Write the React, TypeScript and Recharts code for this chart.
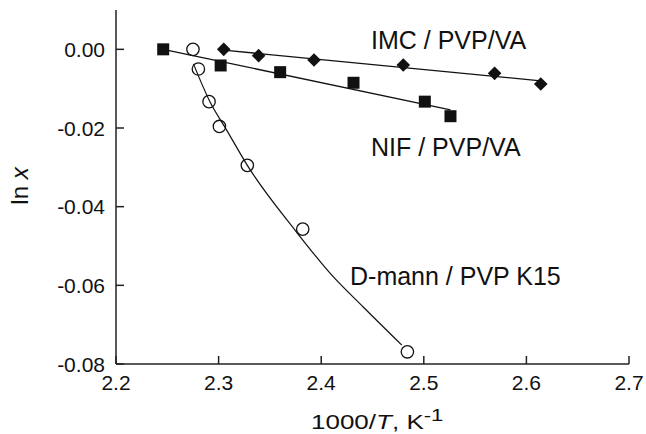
import React from 'react';
import { ComposedChart, XAxis, YAxis, Line, Scatter } from 'recharts';

// Axis ticks
const xTicks = [2.2, 2.3, 2.4, 2.5, 2.6, 2.7];
const yTicks = [0, -0.02, -0.04, -0.06, -0.08];

// IMC / PVP/VA (diamonds)
const imcX = [2.305, 2.339, 2.393, 2.48, 2.569, 2.614];
const imcY = [0.0, -0.0016, -0.0027, -0.004, -0.0061, -0.0088];
const imcFitX = [2.305, 2.614];
const imcFitY = [-0.0002, -0.008];

// NIF / PVP/VA (squares)
const nifX = [2.246, 2.302, 2.36, 2.4315, 2.501, 2.526];
const nifY = [0.0, -0.0041, -0.0058, -0.0085, -0.0133, -0.017];
const nifFitX = [2.246, 2.526];
const nifFitY = [0.0, -0.0154];

// D-mann / PVP K15 (open circles)
const dmX = [2.275, 2.2803, 2.2907, 2.3008, 2.328, 2.382, 2.484];
const dmY = [0.0, -0.005, -0.0133, -0.0196, -0.0295, -0.0457, -0.0769];
const dmCurveX = [2.2755, 2.2917, 2.308, 2.328, 2.3746, 2.409, 2.441, 2.4786];
const dmCurveY = [-0.0037, -0.0134, -0.0206, -0.0295, -0.046, -0.057, -0.0655, -0.0752];

const zip = (xs: number[], ys: number[]) => xs.map((x, i) => ({ x, y: ys[i] }));

const imcData = zip(imcX, imcY);
const imcFit = zip(imcFitX, imcFitY);
const nifData = zip(nifX, nifY);
const nifFit = zip(nifFitX, nifFitY);
const dmData = zip(dmX, dmY);
const dmCurve = zip(dmCurveX, dmCurveY);

const FONT = '"Liberation Sans", Arial, Helvetica, sans-serif';
const INK = '#111';
const AXIS = '#222';

const Square = (p: any) => (
  <rect x={p.cx - 6} y={p.cy - 6} width={12} height={12} fill={INK} />
);
const Diamond = (p: any) => (
  <path
    d={`M${p.cx},${p.cy - 6.8}L${p.cx + 6.8},${p.cy}L${p.cx},${p.cy + 6.8}L${p.cx - 6.8},${p.cy}Z`}
    fill={INK}
  />
);
const Ring = (p: any) => (
  <circle cx={p.cx} cy={p.cy} r={6.2} fill="none" stroke={INK} strokeWidth={1.3} />
);

const XTick = (props: any) => {
  const { x, y, payload } = props;
  return (
    <g>
      <line x1={x} x2={x} y1={y} y2={y - 8} stroke={AXIS} strokeWidth={1.5} />
      <text x={x} y={y + 26} textAnchor="middle" fontSize={21} fill={INK} fontFamily={FONT}>
        {Number(payload.value).toFixed(1)}
      </text>
    </g>
  );
};

const YTick = (props: any) => {
  const { x, y, payload } = props;
  const v = Number(payload.value);
  const label = Math.abs(v) < 1e-9 ? '0.00' : v.toFixed(2);
  return (
    <g>
      <line x1={x} x2={x + 8} y1={y} y2={y} stroke={AXIS} strokeWidth={1.5} />
      <text x={x - 11} y={y + 7.5} textAnchor="end" fontSize={21} fill={INK} fontFamily={FONT}>
        {label}
      </text>
    </g>
  );
};

export default function App() {
  return (
    <div style={{ position: 'absolute', left: 0, top: 0, width: 646, height: 434, background: '#fff' }}>
      <ComposedChart
        width={646}
        height={434}
        margin={{ top: 10, right: 17, bottom: 0, left: 0 }}
      >
        <XAxis
          dataKey="x"
          type="number"
          domain={[2.2, 2.7]}
          ticks={xTicks}
          interval={0}
          allowDataOverflow
          height={70}
          tickSize={0}
          tickMargin={0}
          tickLine={false}
          axisLine={{ stroke: AXIS, strokeWidth: 1.5 }}
          tick={<XTick />}
        />
        <YAxis
          dataKey="y"
          type="number"
          domain={[-0.08, 0.01]}
          ticks={yTicks}
          interval={0}
          allowDataOverflow
          width={116}
          tickSize={0}
          tickMargin={0}
          tickLine={false}
          axisLine={{ stroke: AXIS, strokeWidth: 1.5 }}
          tick={<YTick />}
        />
        <Line data={imcFit} dataKey="y" type="linear" stroke={INK} strokeWidth={1.3} dot={false} activeDot={false} isAnimationActive={false} />
        <Line data={nifFit} dataKey="y" type="linear" stroke={INK} strokeWidth={1.3} dot={false} activeDot={false} isAnimationActive={false} />
        <Line data={dmCurve} dataKey="y" type="monotone" stroke={INK} strokeWidth={1.2} dot={false} activeDot={false} isAnimationActive={false} />
        <Scatter data={imcData} dataKey="y" shape={Diamond} isAnimationActive={false} />
        <Scatter data={nifData} dataKey="y" shape={Square} isAnimationActive={false} />
        <Scatter data={dmData} dataKey="y" shape={Ring} isAnimationActive={false} />

        <text x={371} y={49} fontSize={25} fill={INK} fontFamily={FONT}>IMC / PVP/VA</text>
        <text x={371} y={156} fontSize={25} fill={INK} fontFamily={FONT}>NIF / PVP/VA</text>
        <text x={350} y={285} fontSize={25} fill={INK} fontFamily={FONT}>D-mann / PVP K15</text>

        <text transform="translate(28,186) rotate(-90)" textAnchor="middle" fontSize={24} fill={INK} fontFamily={FONT}>
          ln <tspan fontStyle="italic">x</tspan>
        </text>
        <text transform="translate(311,429) scale(1.3,1)" fontSize={20} fill={INK} fontFamily={FONT}>
          1000/<tspan fontStyle="italic">T</tspan>, K<tspan dy={-8} fontSize={17}>-1</tspan>
        </text>
      </ComposedChart>
    </div>
  );
}
